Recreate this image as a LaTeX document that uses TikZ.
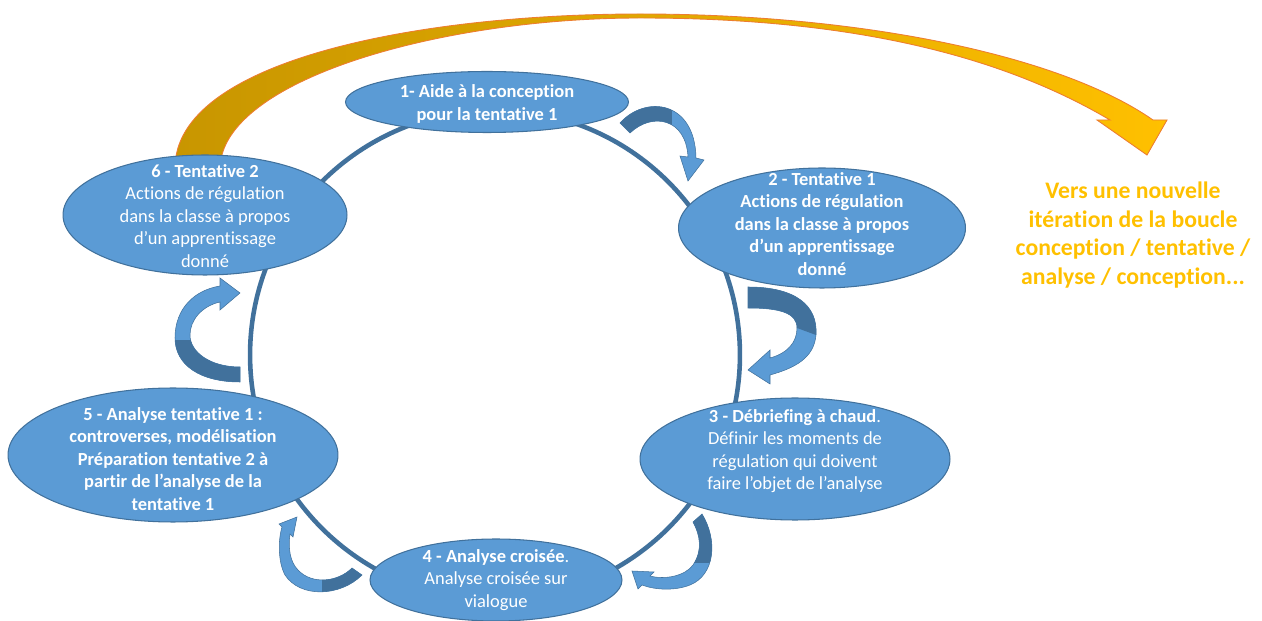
\documentclass[tikz,border=0pt]{standalone}
\usepackage{fontspec}
\setmainfont{Carlito}[Ligatures=NoCommon]
\usepackage{tikz}
\usetikzlibrary{shapes.geometric}
\usetikzlibrary{positioning}

\definecolor{bubblefill}{RGB}{91,155,213}
\definecolor{ringblue}{RGB}{65,113,156}
\definecolor{turndark}{RGB}{65,113,156}
\definecolor{turnlight}{RGB}{91,155,213}
\definecolor{golddark}{RGB}{200,150,0}
\definecolor{goldlight}{RGB}{255,192,0}
\definecolor{goldline}{RGB}{237,125,49}

\tikzset{
  bubble/.style={ellipse, fill=bubblefill, draw=ringblue, line width=0.6pt, inner sep=0pt},
  btext/.style={text=white, align=center, font=\fontsize{10.5}{12.8}\selectfont},
  ring/.style={draw=ringblue, line width=2.6pt},
  turn/.style={fill=turnlight, draw=ringblue, line width=0.3pt},
}

\begin{document}
\begin{tikzpicture}[x=0.02cm,y=-0.02cm]
    \useasboundingbox (0,0) rectangle (1262,621);

    % the loop
    \draw[ring] (495,355) circle (4.9cm);

    % big arrow towards the next iteration
    \shade[left color=golddark, right color=goldlight, middle color=golddark!55!goldlight, draw=goldline, line width=0.5pt]
        (175,168) .. controls (175,60) and (420,14) .. (640,14)
        .. controls (860,14) and (1060,55) .. (1153,120)
        -- (1167,120) -- (1147,155) -- (1097,120) -- (1110,120)
        .. controls (1000,55) and (850,18) .. (640,18)
        .. controls (440,18) and (222,80) .. (220,168) -- cycle;

    % steps
    \node[bubble, minimum width=5.66cm, minimum height=1.22cm] (e1) at (487,102) {};
    \node[bubble, minimum width=5.74cm, minimum height=2.40cm] (e2) at (822,228) {};
    \node[bubble, minimum width=6.20cm, minimum height=2.44cm] (e3) at (795,459) {};
    \node[bubble, minimum width=5.04cm, minimum height=1.64cm] (e4) at (496,580) {};
    \node[bubble, minimum width=6.60cm, minimum height=2.68cm] (e5) at (173,455) {};
    \node[bubble, minimum width=5.68cm, minimum height=2.40cm] (e6) at (205,215) {};

    \node[btext] (t1) at (487,104) {\textbf{1- Aide à la conception}\\\textbf{pour la tentative 1}};
    \node[btext] (t2) at (822,224) {\textbf{2 - Tentative 1}\\\textbf{Actions de régulation}\\\textbf{dans la classe à propos}\\\textbf{d’un apprentissage}\\\textbf{donné}};
    \node[btext] (t3) at (795,451) {\textbf{3 - Débriefing à chaud}.\\Définir les moments de\\régulation qui doivent\\faire l’objet de l’analyse};
    \node[btext] (t4) at (496,580) {\textbf{4 - Analyse croisée}.\\Analyse croisée sur\\vialogue};
    \node[btext] (t5) at (173,459) {\textbf{5 - Analyse tentative 1 :}\\\textbf{controverses, modélisation}\\\textbf{Préparation tentative 2 à}\\\textbf{partir de l’analyse de la}\\\textbf{tentative 1}};
    \node[btext] (t6) at (205,216) {\textbf{6 - Tentative 2}\\Actions de régulation\\dans la classe à propos\\d’un apprentissage\\donné};

    \node[text=goldlight, align=center, font=\fontsize{13.5}{16.2}\selectfont\bfseries] (next) at (1133,235)
        {Vers une nouvelle\\itération de la boucle\\conception / tentative /\\analyse / conception...};

    % turning arrows, 1 to 2
    \filldraw[turn] (620,123) .. controls (645,95) and (695,100) .. (696,158)
        -- (704,160) -- (688,181) -- (680,156) -- (688,157)
        .. controls (686,118) and (652,112) .. (630,133) -- cycle;
    \begin{scope}
      \clip (620,123) .. controls (645,95) and (695,100) .. (696,158)
        -- (688,157) .. controls (686,118) and (652,112) .. (630,133) -- cycle;
      \fill[turndark] (600,80) rectangle (672,140);
    \end{scope}

    % 2 to 3
    \filldraw[turn] (748,287) .. controls (795,287) and (818,305) .. (816,335)
        .. controls (814,358) and (795,368) .. (770,375)
        -- (770,384) -- (748,370) -- (770,350) -- (770,358)
        .. controls (788,353) and (797,342) .. (797,328)
        .. controls (797,313) and (780,308) .. (748,308) -- cycle;
    \begin{scope}
      \clip (748,287) .. controls (795,287) and (818,305) .. (816,335)
        -- (797,328) .. controls (797,313) and (780,308) .. (748,308) -- cycle;
      \fill[turndark] (740,280) rectangle (830,339);
    \end{scope}

    % 3 to 4
    \filldraw[turn] (702,514) .. controls (718,540) and (715,575) .. (690,585)
        .. controls (675,591) and (655,590) .. (642,585)
        -- (638,589) -- (632,571) -- (654,572) -- (650,576)
        .. controls (665,580) and (685,576) .. (693,565)
        .. controls (703,550) and (700,535) .. (693,522) -- cycle;
    \begin{scope}
      \clip (702,514) .. controls (718,540) and (715,575) .. (690,585)
        -- (693,565) .. controls (703,550) and (700,535) .. (693,522) -- cycle;
      \fill[turndark] (680,505) rectangle (725,563);
    \end{scope}

    % 4 to 5
    \filldraw[turn] (362,575) .. controls (340,597) and (300,598) .. (285,575)
        .. controls (278,562) and (278,540) .. (282,527)
        -- (279,524) -- (297,517) -- (293,537) -- (290,534)
        .. controls (288,548) and (290,562) .. (298,570)
        .. controls (312,585) and (338,582) .. (352,568) -- cycle;
    \begin{scope}
      \clip (362,575) .. controls (340,597) and (300,598) .. (285,575)
        -- (298,570) .. controls (312,585) and (338,582) .. (352,568) -- cycle;
      \fill[turndark] (322,560) rectangle (370,600);
    \end{scope}

    % 5 to 6
    \filldraw[turn] (240,382) .. controls (200,382) and (175,365) .. (175,338)
        .. controls (175,308) and (195,290) .. (220,286)
        -- (220,278) -- (240,293) -- (220,310) -- (220,302)
        .. controls (202,306) and (190,320) .. (190,335)
        .. controls (190,352) and (210,367) .. (240,367) -- cycle;
    \begin{scope}
      \clip (240,382) .. controls (200,382) and (175,365) .. (175,338)
        -- (190,335) .. controls (190,352) and (210,367) .. (240,367) -- cycle;
      \fill[turndark] (170,340) rectangle (245,390);
    \end{scope}
\end{tikzpicture}
\end{document}
